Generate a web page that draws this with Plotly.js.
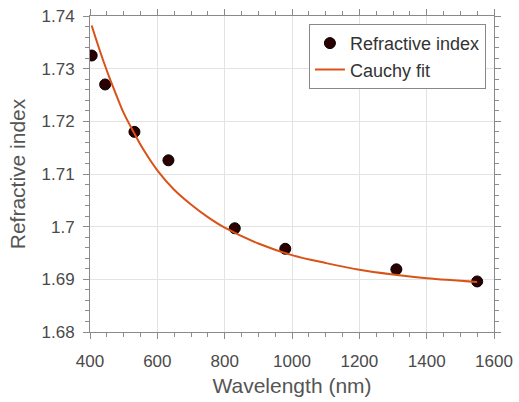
<!DOCTYPE html>
<html>
<head>
<meta charset="utf-8">
<script src="https://cdn.plot.ly/plotly-3.0.1.min.js"></script>
<style>html,body{margin:0;padding:0;background:#fff;}#chart{width:519px;height:402px;}</style>
</head>
<body>
<div id="chart"></div>
<script>
// Measured refractive index
var wavelength = [405, 445, 532, 633, 830, 980, 1310, 1550];
var refractiveIndex = [1.7325, 1.7270, 1.7180, 1.7126, 1.6997, 1.6958, 1.6919, 1.6896];
var indexError = [0.0005, 0.0005, 0.0005, 0.0005, 0.0005, 0.0005, 0.0005, 0.0005];

// Cauchy fit curve
var fitWavelength = [405, 420, 440, 460, 480, 500, 530, 560, 600, 650, 700, 750, 800, 900, 1000, 1100, 1200, 1300, 1400, 1550];
var fitIndex = [1.7382, 1.7352, 1.7314, 1.7279, 1.7247, 1.7216, 1.7179, 1.7145, 1.7107, 1.7070, 1.7042, 1.7018, 1.6998, 1.6968, 1.6946, 1.6931, 1.6918, 1.6909, 1.6902, 1.6895];

var xTicks = [400, 600, 800, 1000, 1200, 1400, 1600];
var yTicks = [1.68, 1.69, 1.7, 1.71, 1.72, 1.73, 1.74];

var FONT = 'Liberation Sans, Arial, sans-serif';
var axisCol = '#8a8a8a';

var traces = [
  {
    x: wavelength, y: refractiveIndex, type: 'scatter', mode: 'markers',
    name: 'Refractive index',
    error_y: {type: 'data', array: indexError, visible: true, color: '#000', thickness: 1, width: 3},
    marker: {size: 11, color: '#2a0000', line: {color: '#000', width: 1}}
  },
  {
    x: fitWavelength, y: fitIndex, type: 'scatter', mode: 'lines',
    name: 'Cauchy fit',
    line: {color: '#D95319', width: 2, shape: 'spline', smoothing: 1}
  }
];

var axisCommon = {
  showline: true, linecolor: axisCol, linewidth: 1, mirror: 'allticks',
  ticks: 'outside', ticklen: 6, tickcolor: axisCol, tickwidth: 1,
  showgrid: true, gridcolor: '#e3e3e3', gridwidth: 1, zeroline: false,
  tickfont: {family: FONT, size: 17, color: '#4a4a4a'}
};

var layout = {
  width: 519, height: 402,
  margin: {l: 90, r: 25, t: 16, b: 70},
  paper_bgcolor: '#fff', plot_bgcolor: '#fff',
  showlegend: true,
  xaxis: Object.assign({}, axisCommon, {
    range: [400, 1600], tickvals: xTicks, ticktext: xTicks.map(String),
    ticklabelstandoff: 8,
    minor: {dtick: 50, tick0: 400, ticks: 'outside', ticklen: 4, tickcolor: axisCol, showgrid: false},
    title: {text: 'Wavelength (nm)', font: {family: FONT, size: 21, color: '#555'}, standoff: 7}
  }),
  yaxis: Object.assign({}, axisCommon, {
    range: [1.68, 1.74], tickvals: yTicks, ticktext: yTicks.map(String),
    ticklabelstandoff: 5,
    minor: {dtick: 0.002, tick0: 1.68, ticks: 'outside', ticklen: 4, tickcolor: axisCol, showgrid: false},
    title: {text: 'Refractive index', font: {family: FONT, size: 21, color: '#555'}, standoff: 10}
  }),
  legend: {
    x: 0.98, y: 0.975, xanchor: 'right', yanchor: 'top',
    bgcolor: '#fff', bordercolor: '#888', borderwidth: 1,
    tracegroupgap: 0, itemwidth: 30,
    font: {family: FONT, size: 18, color: '#333'}
  }
};

Plotly.newPlot('chart', traces, layout, {displayModeBar: false, staticPlot: true});
</script>
</body>
</html>
